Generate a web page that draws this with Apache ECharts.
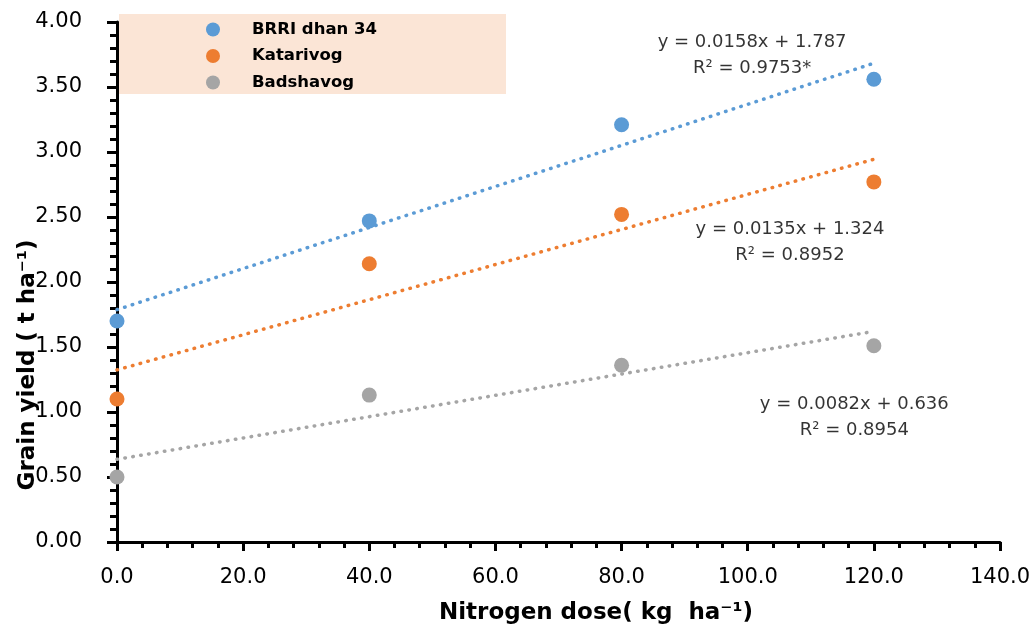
<!DOCTYPE html>
<html>
<head>
<meta charset="utf-8">
<script src="https://cdn.jsdelivr.net/npm/echarts@6/dist/echarts.min.js"></script>
<style>
  html, body { margin: 0; padding: 0; background: #fff; }
  #chart { width: 1035px; height: 637px; }
</style>
</head>
<body>
<div id="chart"></div>
<script>
// Nitrogen rates (kg/ha) and grain yield (t/ha) per variety
const nitrogen = [0, 40, 80, 120];
const varieties = ['BRRI dhan 34', 'Katarivog', 'Badshavog'];
const yieldBRRI = [1.70, 2.47, 3.21, 3.56];
const yieldKatari = [1.10, 2.14, 2.52, 2.77];
const yieldBadsha = [0.50, 1.13, 1.36, 1.51];

// Linear fits: slope, intercept, R²
const slopes = [0.0158, 0.0135, 0.0082];
const intercepts = [1.787, 1.324, 0.636];
const rSquared = ['0.9753*', '0.8952', '0.8954'];

const colors = ['#5B9BD5', '#ED7D31', '#A5A5A5'];
const yields = [yieldBRRI, yieldKatari, yieldBadsha];

// where each equation label sits (data coordinates)
const eqAnchors = [[100.7, 3.746], [106.7, 2.308], [116.9, 0.962]];

const FONT = 'DejaVu Sans';

const chart = echarts.init(document.getElementById('chart'));

const series = [];
varieties.forEach((name, i) => {
  series.push({
    name: name,
    type: 'scatter',
    symbol: 'circle',
    symbolSize: 15,
    itemStyle: { color: colors[i], opacity: 1 },
    data: nitrogen.map((n, k) => [n, yields[i][k]]),
    z: 4
  });
});
varieties.forEach((name, i) => {
  const x0 = nitrogen[0], x1 = nitrogen[nitrogen.length - 1];
  series.push({
    name: name + ' fit',
    type: 'line',
    symbol: 'none',
    silent: true,
    lineStyle: { color: colors[i], width: 3.5, type: [0.5, 7.5], cap: 'round' },
    data: [[x0, intercepts[i] + slopes[i] * x0], [x1, intercepts[i] + slopes[i] * x1]],
    z: 3
  });
});
series.push({
  name: 'equations',
  type: 'scatter',
  symbolSize: 0,
  silent: true,
  data: eqAnchors.map((p, i) => ({
    value: p,
    label: {
      show: true,
      position: 'inside',
      formatter: 'y = ' + slopes[i].toFixed(4) + 'x + ' + intercepts[i].toFixed(3) + '\nR² = ' + rSquared[i],
      fontFamily: FONT,
      fontSize: 18,
      lineHeight: 26,
      color: '#000',
      align: 'center'
    }
  })),
  z: 5
});

chart.setOption({
  animation: false,
  backgroundColor: '#fff',
  grid: { left: 117, right: 35, top: 22, bottom: 95 },
  graphic: [
    { type: 'rect', shape: { x: 119, y: 14, width: 387, height: 80 }, style: { fill: '#FBE5D6' }, z: 1 },
    {
      type: 'text', x: 28, y: 365, rotation: Math.PI / 2,
      style: { text: 'Grain yield ( t ha⁻¹)', font: 'bold 23px "DejaVu Sans"', fill: '#000', align: 'center', verticalAlign: 'middle' }
    },
    {
      type: 'text', x: 596, y: 613,
      style: { text: 'Nitrogen dose( kg  ha⁻¹)', font: 'bold 23px "DejaVu Sans"', fill: '#000', align: 'center', verticalAlign: 'middle' }
    }
  ],
  legend: {
    data: varieties,
    orient: 'vertical',
    left: 206,
    top: 21,
    padding: 0,
    icon: 'circle',
    itemWidth: 14,
    itemHeight: 14,
    itemGap: 9.5,
    textStyle: { fontFamily: FONT, fontWeight: 'bold', fontSize: 16.5, lineHeight: 16, color: '#000', padding: [0, 0, 0, 27] },
    selectedMode: false,
    z: 6
  },
  xAxis: {
    type: 'value',
    min: 0, max: 140, interval: 20,
    axisLine: { show: true, lineStyle: { color: '#000', width: 3 } },
    axisTick: { show: true, length: 9, lineStyle: { color: '#000', width: 3 } },
    minorTick: { show: true, splitNumber: 5, length: 6, lineStyle: { color: '#000', width: 3 } },
    splitLine: { show: false },
    axisLabel: { fontFamily: FONT, fontSize: 21, color: '#000', margin: 25, formatter: v => v.toFixed(1) }
  },
  yAxis: {
    type: 'value',
    min: 0, max: 4, interval: 0.5,
    axisLine: { show: true, lineStyle: { color: '#000', width: 3 } },
    axisTick: { show: true, length: 10, lineStyle: { color: '#000', width: 3 } },
    minorTick: { show: true, splitNumber: 5, length: 7, lineStyle: { color: '#000', width: 3 } },
    splitLine: { show: false },
    axisLabel: { fontFamily: FONT, fontSize: 21, color: '#000', margin: 35, formatter: v => v.toFixed(2) }
  },
  series: series
});
</script>
</body>
</html>
